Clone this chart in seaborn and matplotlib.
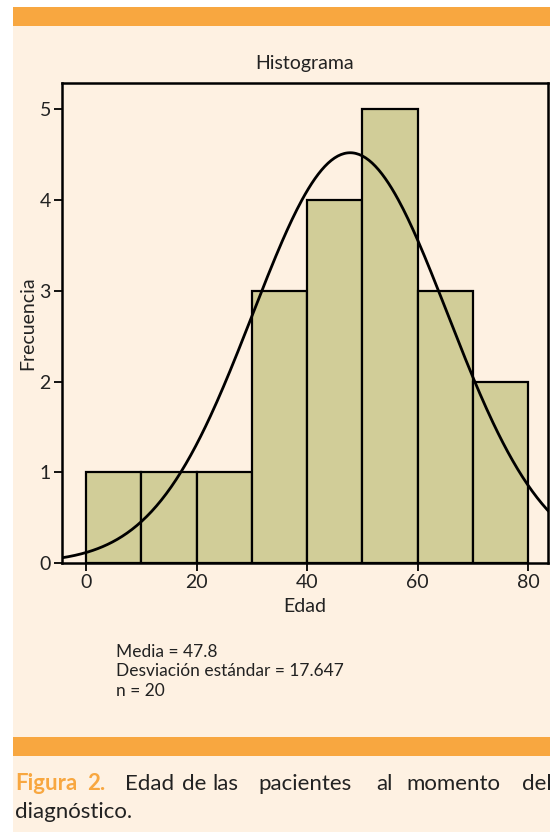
import numpy as np
import pandas as pd
import matplotlib.pyplot as plt
import seaborn as sns
from matplotlib.patches import Rectangle

# histogram bins (Edad) and counts
bin_edges = [0, 10, 20, 30, 40, 50, 60, 70, 80]
bin_counts = [1, 1, 1, 3, 4, 5, 3, 2]
media = 47.8
desviacion = 17.647
n = 20

x_ticks = [0, 20, 40, 60, 80]
y_ticks = [0, 1, 2, 3, 4, 5]

CREAM = "#FEF1E2"
ORANGE = "#F8A740"
BAR = "#D1CD98"
INK = "#222222"

sns.set_theme(style="white")
plt.rcParams["font.family"] = ["Lato", "DejaVu Sans"]

fig = plt.figure(figsize=(5.5, 8.32), dpi=100)
fig.patch.set_facecolor("white")
W, H = 550, 832

def fx(px):
    return px / W

def fy(py):
    return 1 - py / H

# cream panel and orange bands
fig.patches.append(Rectangle((fx(13), 0), 1 - fx(13), fy(7), transform=fig.transFigure,
                             facecolor=CREAM, edgecolor="none", zorder=0))
fig.patches.append(Rectangle((fx(13), fy(26)), 1 - fx(13), fy(7) - fy(26), transform=fig.transFigure,
                             facecolor=ORANGE, edgecolor="none", zorder=1))
fig.patches.append(Rectangle((fx(13), fy(756)), 1 - fx(13), fy(737) - fy(756), transform=fig.transFigure,
                             facecolor=ORANGE, edgecolor="none", zorder=1))

ax = fig.add_axes([fx(62), fy(563), fx(548) - fx(62), fy(83) - fy(563)])
ax.set_zorder(5)
ax.set_facecolor(CREAM)

df = pd.DataFrame({
    "Edad": [(a + b) / 2 for a, b in zip(bin_edges[:-1], bin_edges[1:])],
    "count": bin_counts,
})
sns.histplot(data=df, x="Edad", weights="count", bins=bin_edges, color=BAR,
             edgecolor="black", linewidth=1.6, alpha=1, ax=ax)

# normal curve from the reported mean / sd, scaled to counts
xs = np.linspace(-4.4, 84, 300)
ys = n * 10 * np.exp(-0.5 * ((xs - media) / desviacion) ** 2) / (desviacion * np.sqrt(2 * np.pi))
sns.lineplot(x=xs, y=ys, color="black", linewidth=2, ax=ax)

ax.set_xlim(-4.35, 83.6)
ax.set_ylim(0, 5.29)
ax.set_xticks(x_ticks)
ax.set_yticks(y_ticks)
ax.tick_params(axis="both", which="major", direction="out", length=6, width=1.3,
               color="black", labelsize=14, labelcolor=INK, pad=2,
               bottom=True, left=True)
for s in ax.spines.values():
    s.set_color("black")
    s.set_linewidth(1.8)

ax.set_xlabel("Edad", fontsize=14, color=INK, labelpad=5)
ax.set_ylabel("Frecuencia", fontsize=14, color=INK, labelpad=2)
ax.set_title("Histograma", fontsize=14, color=INK, pad=10)

stats = [f"Media = {media}", f"Desviación estándar = {desviacion}", f"n = {n}"]
for i, t in enumerate(stats):
    fig.text(fx(116), fy(652 + i * 19.5), t, fontsize=12.5, color=INK, va="center")

# justified caption, word by word
cap1 = [("Figura", 15, ORANGE, "bold"), ("2.", 87, ORANGE, "bold"),
        ("Edad", 125, INK, "normal"), ("de", 182, INK, "normal"), ("las", 212, INK, "normal"),
        ("pacientes", 258, INK, "normal"), ("al", 376, INK, "normal"),
        ("momento", 406, INK, "normal"), ("del", 522, INK, "normal")]
for word, x, c, w in cap1:
    fig.text(fx(x), fy(790), word, fontsize=16, color=c, fontweight=w, va="baseline")
fig.text(fx(15), fy(818), "diagnóstico.", fontsize=16, color=INK, va="baseline")

fig.savefig("out.png", dpi=100, facecolor=fig.get_facecolor())
